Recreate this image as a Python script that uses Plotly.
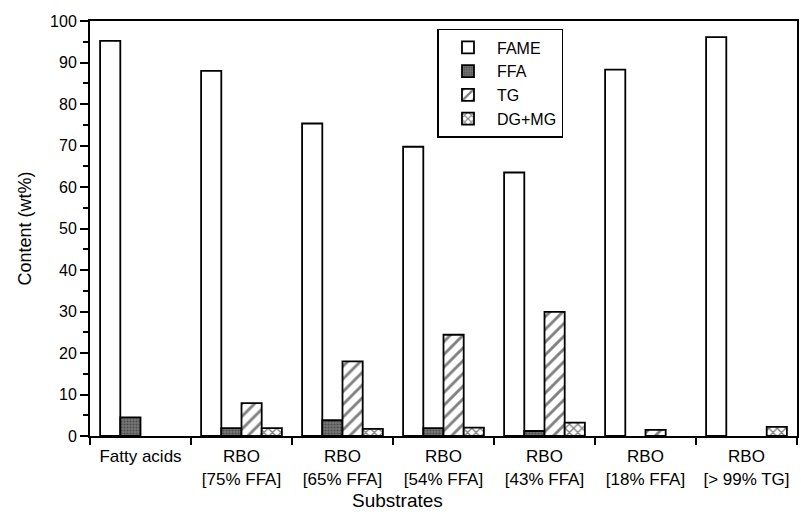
import plotly.graph_objects as go

categories = ["Fatty acids", "RBO<br>[75% FFA]", "RBO<br>[65% FFA]", "RBO<br>[54% FFA]",
              "RBO<br>[43% FFA]", "RBO<br>[18% FFA]", "RBO<br>[> 99% TG]"]
fame = [95.2, 88.0, 75.3, 69.7, 63.5, 88.3, 96.1]
ffa = [4.5, 1.9, 3.8, 1.9, 1.2, None, None]
tg = [None, 7.9, 18.0, 24.4, 29.9, 1.5, None]
dgmg = [None, 1.9, 1.7, 2.0, 3.2, None, 2.2]

FONT = "Arial, Liberation Sans, sans-serif"
LW = 1.8

fig = go.Figure()
fig.add_trace(go.Bar(name="FAME", x=categories, y=fame,
                     marker=dict(color="white", line=dict(color="black", width=LW))))
fig.add_trace(go.Bar(name="FFA", x=categories, y=ffa,
                     marker=dict(color="#6a6a6a", line=dict(color="black", width=LW),
                                 pattern=dict(shape=".", fgcolor="#222222", bgcolor="#777777",
                                              size=3, solidity=0.4))))
fig.add_trace(go.Bar(name="TG", x=categories, y=tg,
                     marker=dict(color="white", line=dict(color="black", width=LW),
                                 pattern=dict(shape="/", fgcolor="black", bgcolor="white",
                                              size=9, solidity=0.32))))
fig.add_trace(go.Bar(name="DG+MG", x=categories, y=dgmg,
                     marker=dict(color="white", line=dict(color="black", width=LW),
                                 pattern=dict(shape="x", fgcolor="black", bgcolor="white",
                                              size=6, solidity=0.4))))

fig.update_layout(
    width=801, height=514,
    margin=dict(l=90, r=2, t=21, b=78),
    paper_bgcolor="white", plot_bgcolor="white",
    barmode="group", bargap=0.2, bargroupgap=0,
    font=dict(family=FONT, color="black", size=16),
    showlegend=True,
    legend=dict(x=0.4915, y=0.981, xanchor="left", yanchor="top",
                bordercolor="black", borderwidth=1.5, bgcolor="white",
                font=dict(family=FONT, size=16), tracegroupgap=0,
                itemwidth=48, traceorder="normal"),
    annotations=[dict(text="Substrates", xref="paper", yref="paper",
                      x=0.435, y=-0.155, xanchor="center", yanchor="middle",
                      showarrow=False, font=dict(family=FONT, size=19))],
)
fig.update_xaxes(
    type="category", range=[-0.5, 6.5],
    showline=True, linecolor="black", linewidth=2, mirror=True,
    ticks="outside", tickson="boundaries", ticklen=7, tickwidth=2, tickcolor="black",
    ticklabelstandoff=4,
    tickfont=dict(family=FONT, size=17), showgrid=False, zeroline=False,
)
fig.update_yaxes(
    range=[0, 100], dtick=10, tick0=0,
    showline=True, linecolor="black", linewidth=2, mirror=True,
    ticks="outside", ticklen=8, tickwidth=2, tickcolor="black",
    minor=dict(dtick=5, ticks="outside", ticklen=5, tickwidth=1.5, tickcolor="black"),
    tickfont=dict(family=FONT, size=16), showgrid=False, zeroline=False,
    title=dict(text="Content (wt%)", font=dict(family=FONT, size=18), standoff=14),
)

fig.write_html("out.html")
